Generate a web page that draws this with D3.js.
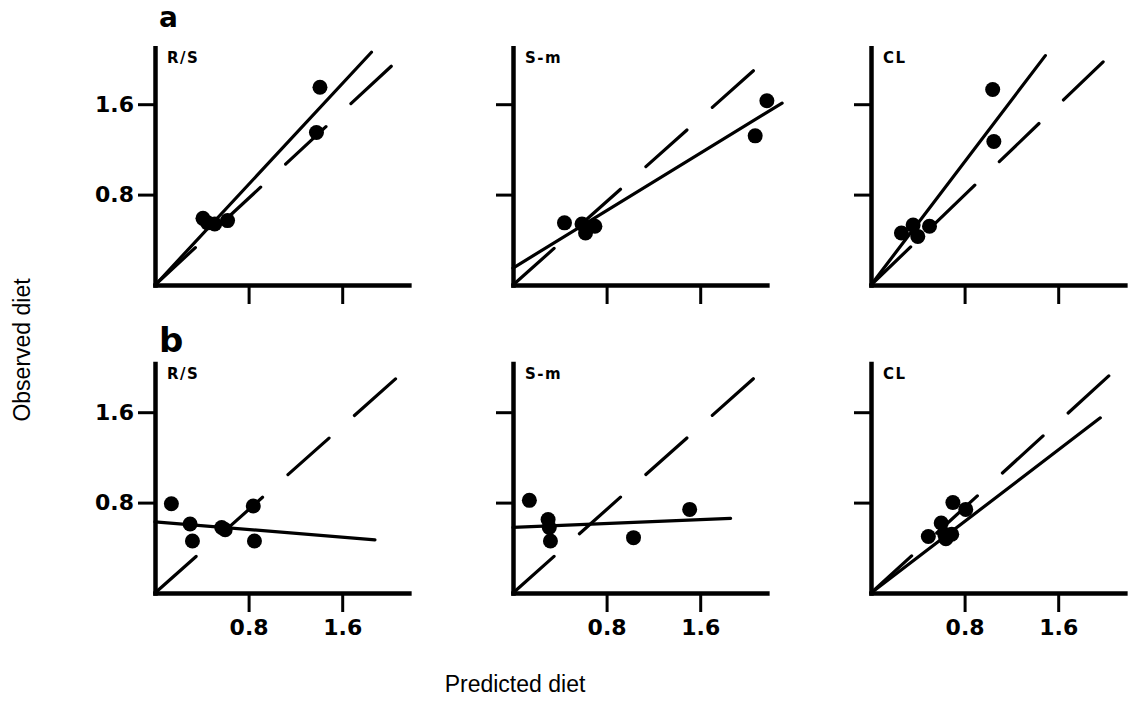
<!DOCTYPE html>
<html><head><meta charset="utf-8">
<script src="https://cdn.jsdelivr.net/npm/d3@7"></script>
<style>
html,body{margin:0;padding:0;background:#fff;}
svg{display:block;}
</style></head>
<body>
<svg id="chart" width="1140" height="701"></svg>
<script>
// ---------- data ----------
const rowLetters = ["a", "b"];
const panelNames = ["R/S", "S-m", "CL"];
const xTicks = [0.8, 1.6];
const yTicks = [0.8, 1.6];
const tickLabels = ["0.8", "1.6"];
const xLabel = "Predicted diet";
const yLabel = "Observed diet";

// observed vs predicted points, row a
const pointsA_RS = [[0.41,0.59],[0.45,0.55],[0.51,0.54],[0.62,0.57],[1.41,1.75],[1.38,1.35]];
const pointsA_Sm = [[0.44,0.55],[0.59,0.54],[0.62,0.46],[0.70,0.52],[2.17,1.63],[2.07,1.32]];
const pointsA_CL = [[1.04,1.73],[1.05,1.27],[0.26,0.46],[0.36,0.53],[0.40,0.43],[0.50,0.52]];
// row b
const pointsB_RS = [[0.14,0.79],[0.30,0.61],[0.32,0.46],[0.57,0.58],[0.60,0.56],[0.84,0.77],[0.85,0.46]];
const pointsB_Sm = [[0.14,0.82],[0.30,0.65],[0.31,0.58],[0.32,0.46],[1.03,0.49],[1.51,0.74]];
const pointsB_CL = [[0.49,0.50],[0.60,0.62],[0.63,0.52],[0.69,0.52],[0.64,0.48],[0.70,0.80],[0.81,0.74]];

// fitted regression lines [x0, y0, x1, y1]
const fitA = [[0.02,0.02,1.85,2.06],[0,0.15,2.30,1.61],[0,0,1.49,2.03]];
const fitB = [[0,0.63,1.88,0.47],[0,0.58,1.86,0.66],[0,0,1.96,1.55]];
// 1:1 reference lines (dashed) [x0, y0, x1, y1]
const refA = [[0,0,2.18,2.09],[0,0,2.20,2.03],[0,0,2.13,2.12]];
const refB = [[0,0,2.17,2.00],[0,0,2.21,2.04],[0,0,2.20,2.08]];

const xMax = 2.17;
const yMaxRows = [2.1, 2.03];

// ---------- layout ----------
const colX = [155, 513, 871];
const rowY = [285, 593];
const pxPerX = 117, pxPerY = 113;

const svg = d3.select("#chart");
const allPoints = [[pointsA_RS, pointsA_Sm, pointsA_CL],[pointsB_RS, pointsB_Sm, pointsB_CL]];
const allFit = [fitA, fitB];
const allRef = [refA, refB];

const boldFont = "'DejaVu Sans', sans-serif";

rowLetters.forEach((letter, r) => {
  panelNames.forEach((name, c) => {
    const ox = colX[c], oy = rowY[r];
    const x = d3.scaleLinear().domain([0, xMax]).range([ox, ox + xMax * pxPerX]);
    const y = d3.scaleLinear().domain([0, yMaxRows[r]]).range([oy, oy - yMaxRows[r] * pxPerY]);
    const g = svg.append("g");

    // axes
    const ax = d3.axisBottom(x).tickValues(xTicks).tickSizeInner(19).tickSizeOuter(0).tickPadding(7)
      .tickFormat((d, i) => r === 1 ? tickLabels[i] : "");
    const ay = d3.axisLeft(y).tickValues(yTicks).tickSizeInner(17).tickSizeOuter(0).tickPadding(4)
      .tickFormat((d, i) => c === 0 ? tickLabels[i] : "");
    const gx = g.append("g").attr("transform", `translate(0,${oy})`).call(ax);
    const gy = g.append("g").attr("transform", `translate(${ox},0)`).call(ay);
    [gx, gy].forEach(a => {
      a.select(".domain").attr("stroke", "#000").attr("stroke-width", 4.5).attr("stroke-linecap", "square");
      a.selectAll(".tick line").attr("stroke", "#000").attr("stroke-width", 3);
      a.selectAll(".tick text").attr("fill", "#000").attr("font-family", boldFont)
        .attr("font-weight", "bold").attr("font-size", 22);
    });

    // dashed 1:1 line
    const rl = allRef[r][c];
    g.append("line")
      .attr("x1", x(rl[0])).attr("y1", y(rl[1])).attr("x2", x(rl[2])).attr("y2", y(rl[3]))
      .attr("stroke", "#000").attr("stroke-width", 3.2).attr("stroke-dasharray", "55,34")
      .attr("stroke-linecap", "round");

    // fitted line
    const fl = allFit[r][c];
    g.append("line")
      .attr("x1", x(fl[0])).attr("y1", y(fl[1])).attr("x2", x(fl[2])).attr("y2", y(fl[3]))
      .attr("stroke", "#000").attr("stroke-width", 3.2).attr("stroke-linecap", "round");

    // points
    g.selectAll("circle.pt").data(allPoints[r][c]).enter().append("circle")
      .attr("class", "pt")
      .attr("cx", d => x(d[0])).attr("cy", d => y(d[1])).attr("r", 7.5).attr("fill", "#000");

    // panel name
    g.append("text").attr("x", ox + 12).attr("y", y(yMaxRows[r]) + 15)
      .attr("font-family", boldFont).attr("font-weight", "bold").attr("font-size", 15)
      .attr("letter-spacing", 1.5).attr("fill", "#000").text(name);
  });
  // row letter
  svg.append("text").attr("x", colX[0] + 4).attr("y", r === 0 ? 27 : 352)
    .attr("font-family", boldFont).attr("font-weight", "bold").attr("font-size", r === 0 ? 28 : 34)
    .attr("fill", "#000").text(letter);
});

// axis titles
svg.append("text").attr("x", 515).attr("y", 692).attr("text-anchor", "middle")
  .attr("font-family", "'Liberation Sans', Arial, sans-serif").attr("font-size", 23)
  .attr("fill", "#000").text(xLabel);
svg.append("text").attr("transform", "translate(30,350) rotate(-90)").attr("text-anchor", "middle")
  .attr("font-family", "'Liberation Sans', Arial, sans-serif").attr("font-size", 23)
  .attr("fill", "#000").text(yLabel);
</script>
</body></html>
